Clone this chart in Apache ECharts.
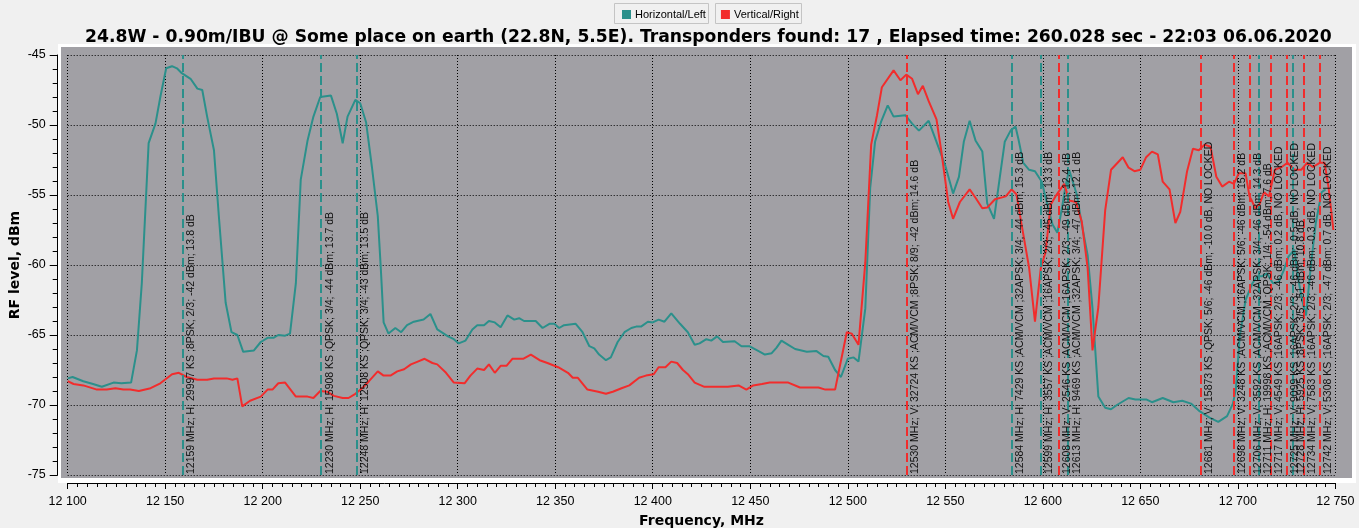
<!DOCTYPE html>
<html><head><meta charset="utf-8">
<script src="https://cdn.jsdelivr.net/npm/echarts@6/dist/echarts.min.js"></script>
<style>html,body{margin:0;padding:0;background:#f0f0f0;}#c{width:1359px;height:528px;}</style>
</head><body><div id="c"></div>
<script>
// ---- data ----
const titleText = '24.8W - 0.90m/IBU @ Some place on earth (22.8N, 5.5E). Transponders found: 17 , Elapsed time: 260.028 sec - 22:03 06.06.2020';
const seriesNames = ['Horizontal/Left', 'Vertical/Right'];
const xTicks = [12100, 12750, 50];   // min, max, step (MHz)
const yTicks = [-75, -45, 5];        // min, max, step (dBm)

const hFreq = [12100,12102.5,12108,12113,12117.5,12123.5,12127.5,12132.5,12135.5,12138,12141.5,12145,12147.5,12150.5,12153.5,12156,12158.5,12163,12166.5,12169,12171.5,12175,12177.5,12181,12184,12187,12190,12195.5,12199,12202.5,12205.5,12208,12211.5,12214,12217,12219.5,12223,12226,12229.5,12235,12238,12241,12243.5,12247.5,12250,12253,12256,12259,12260.5,12262,12264.5,12268,12271,12274,12277.5,12282.5,12286,12289.5,12295,12298,12300.5,12304,12307.5,12310,12313.5,12316,12319,12322,12325.5,12329,12331.5,12334,12340,12343.5,12347,12349.5,12352,12354.5,12360.5,12364,12367.5,12370,12372.5,12376,12378.5,12382,12385.5,12389,12391.5,12394,12397.5,12400,12403,12406,12409.5,12414,12418,12421.5,12424,12427.5,12430,12433,12436,12442,12445.5,12449.5,12455,12457.5,12461,12463.5,12466,12469.5,12473,12479,12484,12487.5,12490,12493.5,12496.5,12500,12503,12505.5,12509,12511.5,12514,12517,12520.5,12523.5,12529.5,12533,12536.5,12541.5,12545.5,12550,12554,12557,12559.5,12562.5,12565.5,12569,12571.5,12575,12577.5,12580.5,12583.5,12586,12587.5,12590,12593,12596,12599.5,12602,12605,12607.5,12610,12611.5,12613.5,12614.5,12617.5,12620,12623,12625.5,12628.5,12632,12635,12638,12644,12647.5,12653,12656,12661.5,12667,12671.5,12676,12680,12685.5,12690,12694.5,12697.5,12699,12701,12704,12707.5,12710,12712.5,12715,12718,12721,12723.5,12726,12729,12731,12733,12735,12737.5,12740,12743,12745];
const hLevel = [-68.1,-68.0,-68.3,-68.5,-68.7,-68.4,-68.45,-68.4,-66.1,-61.3,-51.3,-49.9,-48.0,-45.95,-45.8,-45.95,-46.3,-46.7,-47.4,-47.5,-49.4,-51.8,-56.5,-62.7,-64.8,-65.0,-66.2,-66.1,-65.5,-65.2,-65.2,-65.0,-65.05,-64.9,-61.3,-53.9,-51.1,-49.4,-48.0,-47.9,-49.2,-51.3,-49.4,-48.2,-48.45,-49.8,-53.0,-56.5,-60.1,-64.1,-64.9,-64.5,-64.8,-64.3,-64.05,-63.9,-63.5,-64.6,-65.1,-65.3,-65.6,-65.4,-64.6,-64.3,-64.3,-64.0,-64.1,-64.45,-63.6,-63.9,-63.8,-64.0,-64.0,-64.5,-64.2,-64.2,-64.5,-64.3,-64.2,-64.8,-65.8,-65.95,-66.4,-66.8,-66.6,-65.5,-64.8,-64.5,-64.4,-64.4,-64.05,-64.1,-63.9,-64.05,-63.45,-64.2,-64.8,-65.7,-65.6,-65.3,-65.4,-65.1,-65.5,-65.45,-65.8,-65.8,-66.2,-66.4,-66.3,-65.9,-65.4,-65.7,-66.0,-66.2,-66.15,-66.5,-66.55,-67.5,-68.0,-66.7,-66.6,-66.9,-63.1,-54.5,-51.2,-49.8,-48.6,-49.4,-49.3,-49.9,-50.4,-49.7,-51.2,-52.9,-54.9,-53.7,-51.2,-49.7,-51.1,-51.9,-55.6,-56.7,-54.2,-51.2,-50.4,-50.1,-51.0,-52.7,-53.2,-53.3,-54.05,-55.5,-57.1,-57.7,-55.8,-54.5,-53.2,-53.2,-55.0,-57.1,-59.3,-63.1,-69.4,-70.2,-70.3,-70.0,-69.5,-69.6,-69.6,-69.8,-69.5,-69.8,-69.7,-69.9,-70.4,-70.9,-71.2,-70.8,-69.9,-68.9,-65.1,-62.5,-61.3,-60.8,-60.8,-60.6,-61.3,-61.2,-60.4,-59.4,-58.9,-61.0,-62.5,-63.6,-60.0,-57.0,-54.8,-54.6];

const vFreq = [12100,12103,12108,12115,12120,12124.5,12128.5,12132,12136.5,12142.5,12147.5,12153.5,12157,12161,12166.5,12171.5,12175,12181.5,12184.5,12187,12189.5,12193.5,12199,12202.5,12205,12208,12211.5,12217,12223,12226,12229.5,12233,12236.5,12241,12244,12247.5,12251,12254.5,12259,12262,12265.5,12269,12272.5,12276,12279.5,12283,12287,12289.5,12294,12298,12303.5,12306.5,12310,12313.5,12316,12319,12322,12325,12328,12333.5,12337.5,12342,12346,12351.5,12356.5,12359,12361.5,12366.5,12372,12376,12379.5,12384,12388,12393,12396.5,12400.5,12403,12406.5,12409.5,12412.5,12415.5,12418,12421.5,12426.5,12431,12438.5,12444,12448,12451.5,12456,12460,12469.5,12475.5,12485,12488.5,12493.5,12499.5,12502,12505.5,12509,12512,12515,12517.5,12523.5,12527,12530,12533,12536,12538.5,12541.5,12545.5,12548,12551.5,12554,12557.5,12562.5,12565.5,12569,12571.5,12575.5,12581,12584,12586.5,12589.5,12593,12596,12599,12601.5,12604,12606.5,12609,12611,12613.5,12617,12620,12623,12625.5,12628.5,12632,12635,12641,12644,12647,12650,12653,12656,12659,12661.5,12665,12668,12670.5,12674,12677,12680,12683,12686,12689,12692,12695.5,12698,12700.5,12704,12706,12707,12709,12711,12713.5,12716,12719,12722.5,12725.5,12729,12732.5,12735.5,12738.5,12742,12744.5,12746.5,12749];
const vLevel = [-68.3,-68.5,-68.6,-68.9,-68.9,-68.8,-68.9,-68.9,-69.0,-68.8,-68.45,-67.8,-67.7,-68.0,-68.2,-68.2,-68.1,-68.1,-68.2,-68.1,-70.1,-69.7,-69.4,-68.9,-68.9,-68.45,-68.4,-69.4,-69.4,-69.5,-69.0,-69.05,-69.35,-69.5,-69.5,-69.2,-68.8,-68.3,-67.6,-67.9,-67.9,-67.6,-67.45,-67.1,-66.9,-66.7,-67.0,-67.1,-67.7,-68.4,-68.45,-67.9,-67.4,-67.5,-67.1,-67.7,-67.2,-67.2,-66.7,-66.7,-66.4,-66.8,-67.0,-67.3,-67.7,-68.05,-68.05,-68.9,-69.05,-69.2,-69.05,-68.8,-68.6,-68.05,-67.9,-67.8,-67.3,-67.3,-66.9,-67.0,-67.5,-67.8,-68.4,-68.7,-68.7,-68.7,-68.6,-68.9,-68.6,-68.5,-68.4,-68.4,-68.75,-68.75,-68.9,-68.9,-64.8,-64.9,-65.7,-59.8,-51.4,-49.3,-47.3,-46.1,-46.8,-46.4,-46.7,-47.8,-47.2,-48.3,-49.6,-51.9,-55.5,-56.7,-55.5,-54.6,-55.2,-55.95,-55.9,-55.3,-55.1,-54.6,-54.95,-57.4,-60.2,-64.05,-60.2,-59.05,-55.7,-55.1,-54.6,-54.2,-55.4,-55.5,-56.9,-60.2,-66.1,-63.0,-56.1,-53.2,-52.3,-53.05,-53.3,-53.2,-52.3,-51.9,-52.1,-54.05,-54.6,-57.0,-56.2,-53.3,-51.7,-51.8,-51.4,-51.55,-53.7,-54.4,-54.05,-54.2,-53.45,-53.45,-55.1,-55.35,-55.95,-55.7,-54.8,-55.1,-53.2,-53.0,-52.7,-53.2,-53.2,-52.7,-53.0,-52.7,-52.7,-54.4,-57.5];

const markerFreq = [12159,12230,12248,12530,12584,12599,12608,12613,12681,12698,12706,12711,12717,12725,12728,12734,12742];
const markerPol  = ['H','H','H','V','H','H','V','H','V','V','V','H','V','V','H','V','V'];
const markerText = [
 '12159 MHz; H; 29997 KS ;8PSK; 2/3; -42 dBm; 13.8 dB',
 '12230 MHz; H; 15908 KS ;QPSK; 3/4; -44 dBm; 13.7 dB',
 '12248 MHz; H; 12508 KS ;QPSK; 3/4; -43 dBm; 13.5 dB',
 '12530 MHz; V; 32724 KS ;ACM/VCM ;8PSK; 8/9; -42 dBm; 14.6 dB',
 '12584 MHz; H; 7429 KS ;ACM/VCM ;32APSK; 3/4; -44 dBm; 15.3 dB',
 '12599 MHz; H; 3557 KS ;ACM/VCM ;16APSK; 2/3; -45 dBm; 13.3 dB',
 '12608 MHz; V; 2546 KS ;ACM/VCM ;16APSK; 2/3; -49 dBm; 12.4 dB',
 '12613 MHz; H; 9469 KS ;ACM/VCM ;32APSK; 3/4; -47 dBm; 12.1 dB',
 '12681 MHz; V; 15873 KS ;QPSK; 5/6; -46 dBm; -10.0 dB, NO LOCKED',
 '12698 MHz; V; 3248 KS ;ACM/VCM ;16APSK; 5/6; -46 dBm; 15.2 dB',
 '12706 MHz; V; 3592 KS ;ACM/VCM ;32APSK; 3/4; -46 dBm; 14.3 dB',
 '12711 MHz; H; 19998 KS ;ACM/VCM ;QPSK; 1/4; -54 dBm; 7.6 dB',
 '12717 MHz; V; 4549 KS ;16APSK; 2/3; -46 dBm; 0.2 dB, NO LOCKED',
 '12725 MHz; V; 9099 KS ;16APSK; 2/3; -46 dBm; -0.5 dB, NO LOCKED',
 '12728 MHz; H; 5925 KS ;8PSK; 3/5; -51 dBm; 10.8 dB',
 '12734 MHz; V; 7583 KS ;16APSK; 2/3; -46 dBm; -0.3 dB, NO LOCKED',
 '12742 MHz; V; 5308 KS ;16APSK; 2/3; -47 dBm; 0.7 dB, NO LOCKED'
];

// ---- styling ----
const TEAL = '#2b908b', RED = '#f22c2c';
const TICK_FONT = 'Liberation Sans';

function pairs(xs, ys){ return xs.map((x,i)=>[x, ys[i]]); }
function markers(pol){
  const out=[];
  markerFreq.forEach((f,i)=>{ if(markerPol[i]===pol) out.push({xAxis:f, label:{formatter:markerText[i]}}); });
  return out;
}
function markLineFor(pol,color){
  return {
    silent:true, symbol:['none','none'], animation:false,
    lineStyle:{color:color, width:2, type:[9,4]},
    label:{show:true, position:'insideStartBottom', distance:[1,3], color:'#111',
           fontFamily:TICK_FONT, fontSize:10.5},
    emphasis:{disabled:true},
    data:markers(pol)
  };
}

const chart = echarts.init(document.getElementById('c'), null, {renderer:'canvas'});
chart.setOption({
  backgroundColor:'#f0f0f0',
  animation:false,
  title:{text:titleText, left:80, top:24,
    textStyle:{fontFamily:'DejaVu Sans', fontWeight:'bold', fontSize:17.2, color:'#000'}},
  legend:{data:seriesNames, left:617, top:4, itemWidth:9, itemHeight:9, itemGap:15, icon:'rect',
    textStyle:{fontFamily:TICK_FONT, fontSize:11, color:'#000', padding:[0,0,0,-1]}},
  graphic:[
    {type:'rect', z:-10, shape:{x:58,y:44,width:1298,height:439}, style:{fill:'#ffffff'}},
    {type:'rect', z:-9, shape:{x:61,y:47,width:1291,height:431}, style:{fill:'#a1a0a5'}},
    {type:'rect', z:-9, shape:{x:614.5,y:3.5,width:94,height:20}, style:{fill:'#f0f0f0', stroke:'#c4c4c4'}},
    {type:'rect', z:-9, shape:{x:715.5,y:3.5,width:86,height:20}, style:{fill:'#f0f0f0', stroke:'#c4c4c4'}}
  ],
  grid:{left:67.7, right:23.7, top:55, bottom:53, containLabel:false, outerBoundsMode:'none'},
  xAxis:{type:'value', min:xTicks[0], max:xTicks[1], interval:xTicks[2], offset:8,
    name:'Frequency, MHz', nameLocation:'middle', nameGap:31,
    nameTextStyle:{fontFamily:'DejaVu Sans', fontWeight:'bold', fontSize:14, color:'#000'},
    axisLine:{show:true, onZero:false, lineStyle:{color:'#000', width:1}},
    axisTick:{show:true, length:6, lineStyle:{color:'#000'}},
    minorTick:{show:true, splitNumber:10, length:4, lineStyle:{color:'#000'}},
    axisLabel:{margin:12, fontFamily:TICK_FONT, fontSize:12.5, color:'#000',
      formatter:v=>{const s=String(v); return s.slice(0,s.length-3)+' '+s.slice(-3);}},
    splitLine:{show:true, lineStyle:{color:'#000', width:1, type:[1,2]}}
  },
  yAxis:{type:'value', min:yTicks[0], max:yTicks[1], interval:yTicks[2], offset:10,
    name:'RF level, dBm', nameLocation:'middle', nameGap:35, nameRotate:90, nameMoveOverlap:false,
    nameTextStyle:{fontFamily:'DejaVu Sans', fontWeight:'bold', fontSize:14, color:'#000'},
    axisLine:{show:true, onZero:false, lineStyle:{color:'#000', width:1}},
    axisTick:{show:true, length:8, lineStyle:{color:'#000'}},
    minorTick:{show:true, splitNumber:5, length:5, lineStyle:{color:'#000'}},
    axisLabel:{margin:12, fontFamily:TICK_FONT, fontSize:12.5, color:'#000'},
    splitLine:{show:true, lineStyle:{color:'#000', width:1, type:[1,2]}}
  },
  series:[
    {name:seriesNames[0], type:'line', data:pairs(hFreq,hLevel), showSymbol:false, symbol:'none',
     lineStyle:{color:TEAL, width:2}, itemStyle:{color:TEAL}, markLine:markLineFor('H',TEAL)},
    {name:seriesNames[1], type:'line', data:pairs(vFreq,vLevel), showSymbol:false, symbol:'none',
     lineStyle:{color:RED, width:2}, itemStyle:{color:RED}, markLine:markLineFor('V',RED)}
  ]
});
</script></body></html>
